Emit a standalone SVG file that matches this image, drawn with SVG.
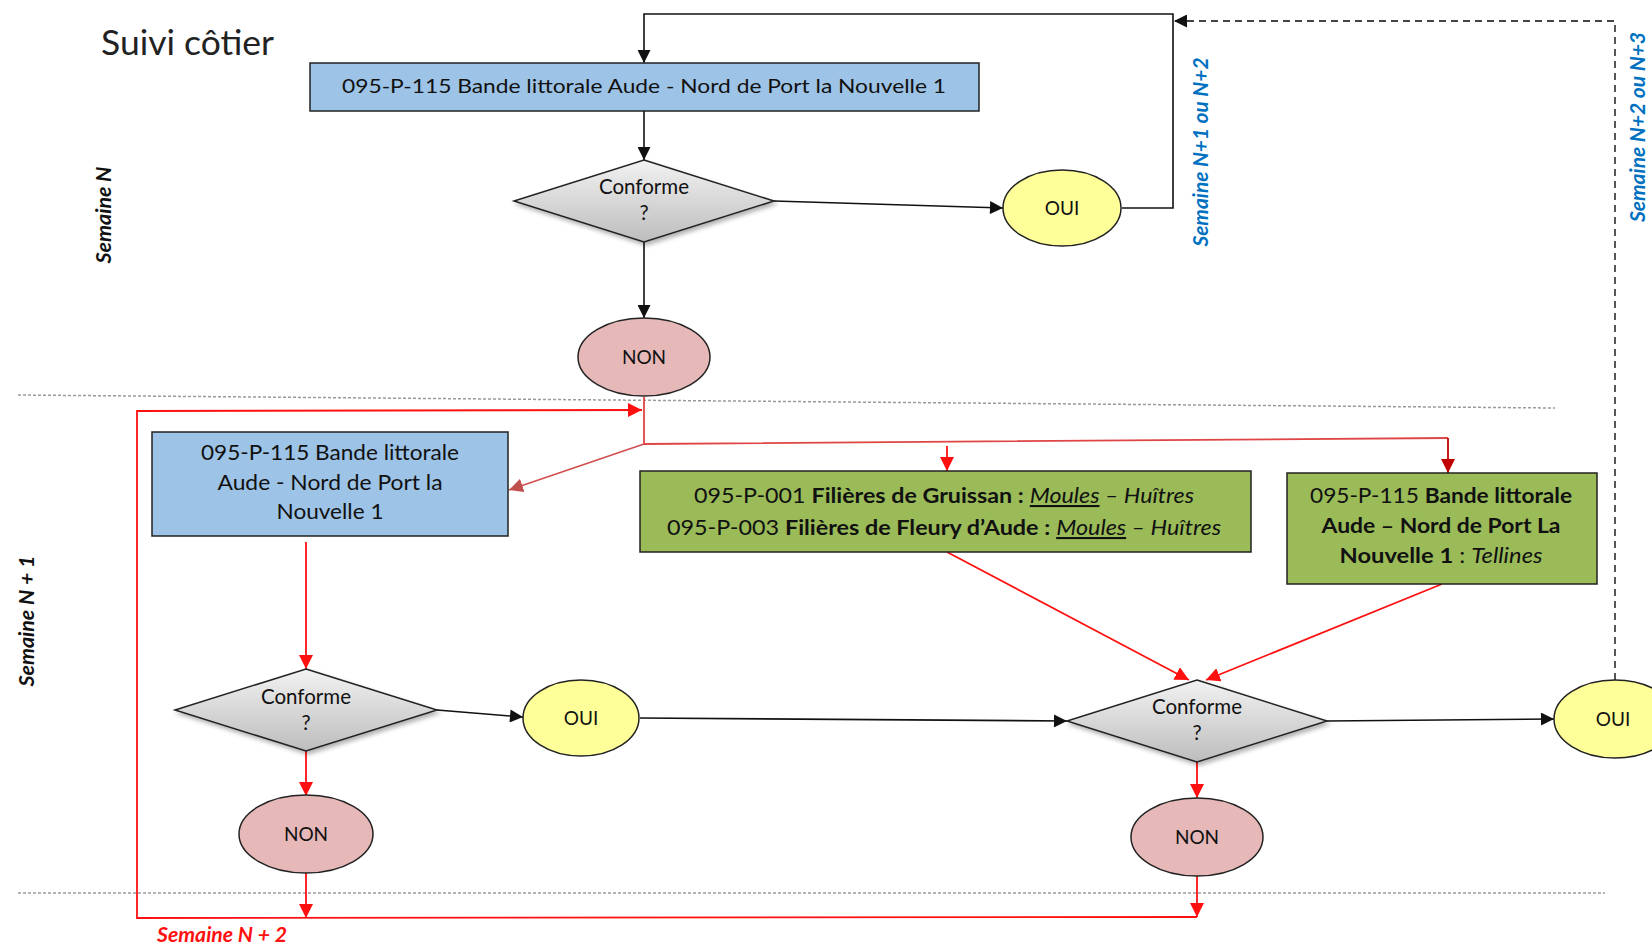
<svg xmlns="http://www.w3.org/2000/svg" width="1652" height="945" viewBox="0 0 1652 945">
<style>
text{font-family:Lato,"Open Sans","Liberation Sans",sans-serif;fill:#111}
.box{stroke:#222;stroke-width:1.5}
.blue{fill:#9DC3E6}
.green{fill:#9BBB59}
.oui{fill:#FFFF99;stroke:#222;stroke-width:1.5}
.non{fill:#E6B8B7;stroke:#222;stroke-width:1.5}
.dia{fill:url(#dg);stroke:#222;stroke-width:1.5;filter:url(#sh)}
.t20{font-size:20px;text-anchor:middle}
.t19{font-size:19px;text-anchor:middle}
.cf{font-size:20.5px;text-anchor:middle}
.lbl{font-size:20px;font-weight:bold;font-style:italic;text-anchor:middle}
.sep{stroke:#9a9a9a;stroke-width:1.5;stroke-dasharray:3 2;fill:none}
.k{stroke:#111;stroke-width:1.6;fill:none}
.r{stroke:#FF1010;stroke-width:1.8;fill:none}
.rp{stroke:#DF4545;stroke-width:1.8;fill:none}
.b{font-weight:bold}
.i{font-style:italic}
.u{text-decoration:underline}
</style>
<defs>
<linearGradient id="dg" x1="0" y1="0" x2="0" y2="1">
<stop offset="0" stop-color="#F2F2F2"/>
<stop offset="1" stop-color="#BDBDBD"/>
</linearGradient>
<filter id="sh" x="-10%" y="-10%" width="130%" height="140%">
<feDropShadow dx="2" dy="3" stdDeviation="2" flood-color="#000" flood-opacity="0.3"/>
</filter>
<marker id="ak" viewBox="0 0 10 10" refX="10" refY="5" markerWidth="14" markerHeight="13" markerUnits="userSpaceOnUse" orient="auto"><path d="M0,0 L10,5 L0,10 z" fill="#111"/></marker>
<marker id="ar" viewBox="0 0 10 10" refX="10" refY="5" markerWidth="14" markerHeight="14" markerUnits="userSpaceOnUse" orient="auto"><path d="M0,0 L10,5 L0,10 z" fill="#FF1010"/></marker>
<marker id="ad" viewBox="0 0 10 10" refX="10" refY="5" markerWidth="14" markerHeight="14" markerUnits="userSpaceOnUse" orient="auto"><path d="M0,0 L10,5 L0,10 z" fill="#C00000"/></marker>
<marker id="ac" viewBox="0 0 10 10" refX="10" refY="5" markerWidth="14" markerHeight="14" markerUnits="userSpaceOnUse" orient="auto"><path d="M0,0 L10,5 L0,10 z" fill="#C0504D"/></marker>
<marker id="ag" viewBox="0 0 10 10" refX="10" refY="5" markerWidth="14" markerHeight="13" markerUnits="userSpaceOnUse" orient="auto"><path d="M0,0 L10,5 L0,10 z" fill="#111"/></marker>
</defs>
<rect width="1652" height="945" fill="#fff"/>

<g id="separators">
<path class="sep" d="M18,395 L1555,408"/>
<path class="sep" d="M18,893 L1605,893"/>
</g>

<g id="labels">
<text x="101" y="55" style="font-size:34px;fill:#222" textLength="173" lengthAdjust="spacingAndGlyphs">Suivi côtier</text>
<text class="lbl" transform="translate(111,215) rotate(-90)" textLength="97" lengthAdjust="spacingAndGlyphs">Semaine N</text>
<text class="lbl" transform="translate(34,621) rotate(-90)" textLength="131" lengthAdjust="spacingAndGlyphs">Semaine N + 1</text>
<text class="lbl" transform="translate(1208,152) rotate(-90)" style="fill:#0070C0" textLength="189" lengthAdjust="spacingAndGlyphs">Semaine N+1 ou N+2</text>
<text class="lbl" transform="translate(1645,127) rotate(-90)" style="fill:#0070C0" textLength="190" lengthAdjust="spacingAndGlyphs">Semaine N+2 ou N+3</text>
<text x="157" y="942" style="font-size:21px;font-weight:bold;font-style:italic;fill:#FF1010" textLength="130" lengthAdjust="spacingAndGlyphs">Semaine N + 2</text>
</g>

<g id="connectors">
<path class="k" d="M1122,208 H1173 V14 H644 V63" marker-end="url(#ak)"/>
<line class="k" x1="644" y1="111" x2="644" y2="160" marker-end="url(#ak)"/>
<line class="k" x1="774" y1="201" x2="1003" y2="208" marker-end="url(#ak)"/>
<line class="k" x1="644" y1="242" x2="644" y2="318" marker-end="url(#ak)"/>
<line class="k" x1="437" y1="710" x2="523" y2="717" marker-end="url(#ak)"/>
<line class="k" x1="640" y1="718" x2="1067" y2="721" marker-end="url(#ak)"/>
<line class="k" x1="1327" y1="721" x2="1554" y2="719" marker-end="url(#ak)"/>
<path d="M1615,680 V21 H1174" fill="none" stroke="#444" stroke-width="1.8" stroke-dasharray="7 5" marker-end="url(#ag)"/>

<path class="r" d="M1197,917 L137,918 L137,411 L642,410" marker-end="url(#ar)"/>
<line class="r" x1="306" y1="873" x2="306" y2="918" marker-end="url(#ar)"/>
<line class="r" x1="1197" y1="876" x2="1197" y2="917" marker-end="url(#ar)"/>
<path class="rp" d="M644,397 V444 L1448,438"/>
<line x1="1448" y1="438" x2="1448" y2="473" stroke="#C00000" stroke-width="1.8" marker-end="url(#ad)"/>
<line class="r" x1="947" y1="446" x2="947" y2="471" marker-end="url(#ar)"/>
<line x1="644" y1="444" x2="509" y2="490" stroke="#D05050" stroke-width="1.8" marker-end="url(#ac)"/>
<line class="r" x1="306" y1="542" x2="306" y2="669" marker-end="url(#ar)"/>
<line class="r" x1="306" y1="751" x2="306" y2="796" marker-end="url(#ar)"/>
<line class="r" x1="1197" y1="762" x2="1197" y2="798" marker-end="url(#ar)"/>
<line class="r" x1="947" y1="552" x2="1189" y2="680" marker-end="url(#ar)"/>
<line class="r" x1="1442" y1="584" x2="1206" y2="680" marker-end="url(#ar)"/>
</g>

<g id="box1">
<rect class="box blue" x="310" y="63" width="669" height="48"/>
<text class="t20" x="644" y="93" textLength="604" lengthAdjust="spacingAndGlyphs">095-P-115 Bande littorale Aude - Nord de Port la Nouvelle 1</text>
</g>

<g id="diamond1">
<polygon class="dia" points="644,160 774,201 644,242 514,201"/>
<text class="cf" x="644" y="194">Conforme</text>
<text class="cf" x="644" y="220">?</text>
</g>

<g id="oui1">
<ellipse class="oui" cx="1062" cy="208" rx="59" ry="38"/>
<text class="t19" x="1062" y="215">OUI</text>
</g>

<g id="non1">
<ellipse class="non" cx="644" cy="357" rx="66" ry="39"/>
<text class="t19" x="644" y="364">NON</text>
</g>

<g id="box2">
<rect class="box blue" x="152" y="432" width="356" height="104"/>
<text class="t20" x="330" y="460" style="font-size:21px" textLength="258" lengthAdjust="spacingAndGlyphs">095-P-115 Bande littorale</text>
<text class="t20" x="330" y="490" style="font-size:21px" textLength="225" lengthAdjust="spacingAndGlyphs">Aude - Nord de Port la</text>
<text class="t20" x="330" y="519" style="font-size:21px" textLength="107" lengthAdjust="spacingAndGlyphs">Nouvelle 1</text>
</g>

<g id="green1">
<rect class="box green" x="640" y="471" width="611" height="81"/>
<text class="t20" x="944" y="503" style="font-size:21px" textLength="500" lengthAdjust="spacingAndGlyphs">095-P-001 <tspan class="b">Filières de Gruissan :</tspan> <tspan class="i u">Moules</tspan><tspan class="i"> – Huîtres</tspan></text>
<text class="t20" x="944" y="535" style="font-size:21px" textLength="554" lengthAdjust="spacingAndGlyphs">095-P-003 <tspan class="b">Filières de Fleury d’Aude :</tspan> <tspan class="i u">Moules</tspan><tspan class="i"> – Huîtres</tspan></text>
</g>

<g id="green2">
<rect class="box green" x="1287" y="473" width="310" height="111"/>
<text class="t20" x="1441" y="503" style="font-size:21px" textLength="262" lengthAdjust="spacingAndGlyphs">095-P-115 <tspan class="b">Bande littorale</tspan></text>
<text class="t20 b" x="1441" y="533" style="font-size:21px" textLength="239" lengthAdjust="spacingAndGlyphs">Aude – Nord de Port La</text>
<text class="t20" x="1441" y="563" style="font-size:21px" textLength="203" lengthAdjust="spacingAndGlyphs"><tspan class="b">Nouvelle 1</tspan> : <tspan class="i">Tellines</tspan></text>
</g>

<g id="diamond2">
<polygon class="dia" points="306,669 437,710 306,751 175,710"/>
<text class="cf" x="306" y="704">Conforme</text>
<text class="cf" x="306" y="730">?</text>
</g>

<g id="oui2">
<ellipse class="oui" cx="581" cy="718" rx="58" ry="38"/>
<text class="t19" x="581" y="725">OUI</text>
</g>

<g id="non2">
<ellipse class="non" cx="306" cy="834" rx="67" ry="39"/>
<text class="t19" x="306" y="841">NON</text>
</g>

<g id="diamond3">
<polygon class="dia" points="1197,680 1327,721 1197,762 1067,721"/>
<text class="cf" x="1197" y="714">Conforme</text>
<text class="cf" x="1197" y="740">?</text>
</g>

<g id="oui3">
<ellipse class="oui" cx="1615" cy="719" rx="61" ry="39"/>
<text class="t19" x="1613" y="726">OUI</text>
</g>

<g id="non3">
<ellipse class="non" cx="1197" cy="837" rx="66" ry="39"/>
<text class="t19" x="1197" y="844">NON</text>
</g>
</svg>
